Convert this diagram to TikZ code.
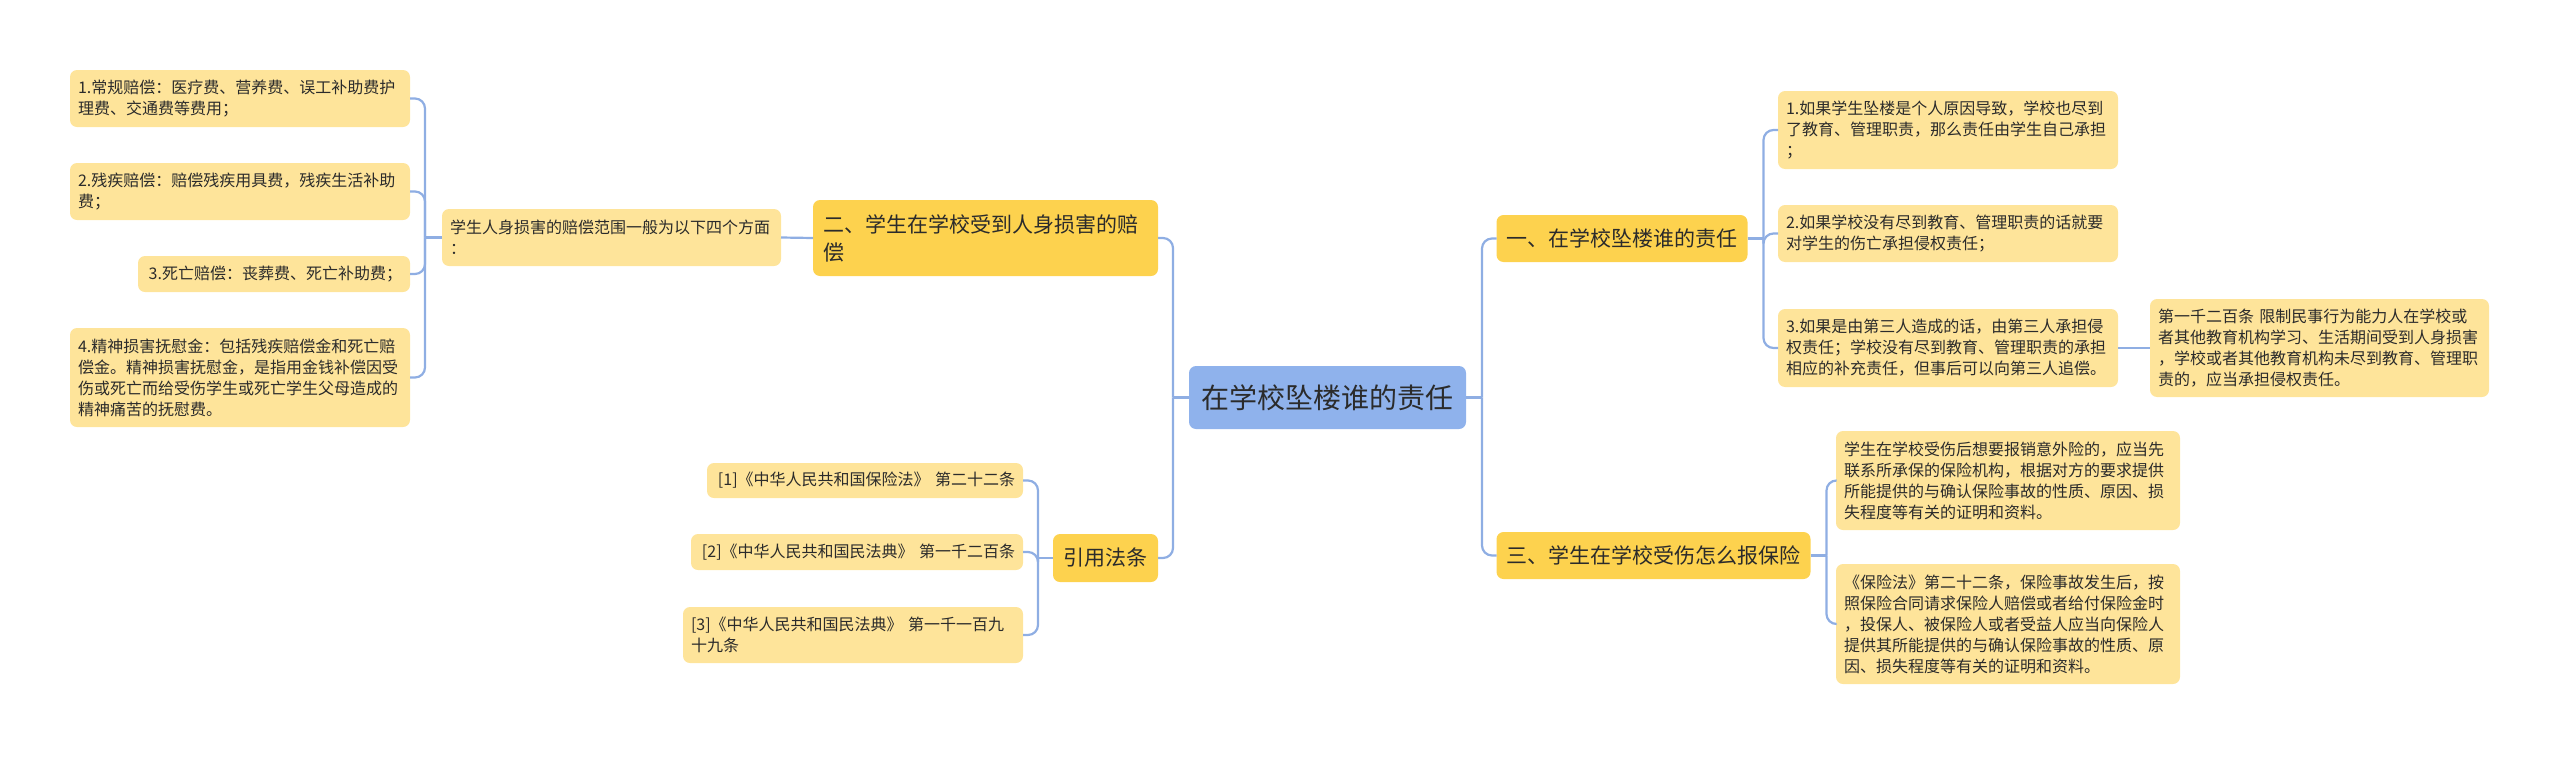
\documentclass[tikz,border=0pt]{standalone}
\usepackage{fontspec}
\setmainfont{Noto Sans CJK SC}
\definecolor{leafc}{HTML}{FEE49A}
\definecolor{branchc}{HTML}{FDD24E}
\definecolor{rootc}{HTML}{8FB2EC}
\definecolor{linec}{HTML}{8FAEE3}
\definecolor{txt}{HTML}{2B2B2B}
\tikzset{
  base/.style={rounded corners=7pt, text=txt, inner ysep=0pt, outer sep=0pt},
  leaf/.style={base, fill=leafc, font=\fontsize{16}{21}\selectfont, align=left, inner xsep=8pt},
  branch/.style={base, fill=branchc, font=\fontsize{21}{28}\selectfont, inner xsep=10pt},
  rootbox/.style={base, fill=rootc, font=\fontsize{28}{34}\selectfont, inner xsep=12pt, align=center},
  conn/.style={draw=linec, line width=2.2pt, rounded corners=10pt}
}
\begin{document}
\begin{tikzpicture}[x=1pt,y=-1pt]
\useasboundingbox (0,0) rectangle (2560,758);

% root
\node[rootbox, minimum width=277pt, minimum height=63pt] (root) at (1327.5,397.5) {在学校坠楼谁的责任};

% left branch 二
\node[branch, text width=325pt, align=left, minimum height=76pt] (b2) at (985.5,238) {二、学生在学校受到人身损害的赔\\偿};
\node[leaf, text width=323pt, minimum height=57pt] (m2) at (611.5,237.5) {学生人身损害的赔偿范围一般为以下四个方面\\：};
\node[leaf, text width=324pt, minimum height=57pt] (l1) at (240,98.5) {1.常规赔偿：医疗费、营养费、误工补助费护\\理费、交通费等费用；};
\node[leaf, text width=324pt, minimum height=57pt] (l2) at (240,191.5) {2.残疾赔偿：赔偿残疾用具费，残疾生活补助\\费；};
\node[leaf, text width=256pt, minimum height=36pt, align=right] (l3) at (274,274) {3.死亡赔偿：丧葬费、死亡补助费；};
\node[leaf, text width=324pt, minimum height=99pt] (l4) at (240,377.5) {4.精神损害抚慰金：包括残疾赔偿金和死亡赔\\偿金。精神损害抚慰金，是指用金钱补偿因受\\伤或死亡而给受伤学生或死亡学生父母造成的\\精神痛苦的抚慰费。};

% left branch 引用法条
\node[branch, minimum width=105pt, minimum height=48pt, align=center] (cite) at (1105.5,558) {引用法条};
\node[leaf, text width=300pt, minimum height=35pt, align=right] (c1) at (865,480.5) {[1]《中华人民共和国保险法》 第二十二条};
\node[leaf, text width=316pt, minimum height=36pt, align=right] (c2) at (857,552) {[2]《中华人民共和国民法典》 第一千二百条};
\node[leaf, text width=324pt, minimum height=56pt] (c3) at (853,635) {[3]《中华人民共和国民法典》 第一千一百九\\十九条};

% right branch 一
\node[branch, minimum width=250pt, minimum height=47pt, align=center] (b1) at (1622,238.5) {一、在学校坠楼谁的责任};
\node[leaf, text width=324pt, minimum height=78pt] (r1) at (1948,130) {1.如果学生坠楼是个人原因导致，学校也尽到\\了教育、管理职责，那么责任由学生自己承担\\；};
\node[leaf, text width=324pt, minimum height=57pt] (r2) at (1948,233.5) {2.如果学校没有尽到教育、管理职责的话就要\\对学生的伤亡承担侵权责任；};
\node[leaf, text width=324pt, minimum height=78pt] (r3) at (1948,348) {3.如果是由第三人造成的话，由第三人承担侵\\权责任；学校没有尽到教育、管理职责的承担\\相应的补充责任，但事后可以向第三人追偿。};
\node[leaf, text width=323pt, minimum height=98pt] (r3a) at (2319.5,348) {第一千二百条 限制民事行为能力人在学校或\\者其他教育机构学习、生活期间受到人身损害\\，学校或者其他教育机构未尽到教育、管理职\\责的，应当承担侵权责任。};

% right branch 三
\node[branch, minimum width=313pt, minimum height=47pt, align=center] (b3) at (1653.5,555.5) {三、学生在学校受伤怎么报保险};
\node[leaf, text width=328pt, minimum height=99pt] (r4) at (2008,480.5) {学生在学校受伤后想要报销意外险的，应当先\\联系所承保的保险机构，根据对方的要求提供\\所能提供的与确认保险事故的性质、原因、损\\失程度等有关的证明和资料。};
\node[leaf, text width=328pt, minimum height=120pt] (r5) at (2008,624) {《保险法》第二十二条，保险事故发生后，按\\照保险合同请求保险人赔偿或者给付保险金时\\，投保人、被保险人或者受益人应当向保险人\\提供其所能提供的与确认保险事故的性质、原\\因、损失程度等有关的证明和资料。};

% junctions
\coordinate (j0) at ([xshift=-16pt]root.west);
\coordinate (j2) at ([xshift=-17pt]m2.west);
\coordinate (j3) at ([xshift=-15pt]cite.west);
\coordinate (j4) at ([xshift=16pt]root.east);
\coordinate (j5) at ([xshift=16pt]b1.east);
\coordinate (j6) at ([xshift=16pt]b3.east);

% connectors
\draw[conn] (root.west) -- (j0);
\draw[conn] (j0) |- (b2.east);
\draw[conn] (j0) |- (cite.east);
\draw[conn] (b2.west) -- (m2.east);
\draw[conn] (m2.west) -- (j2);
\draw[conn] (j2) |- (l1.east);
\draw[conn] (j2) |- (l2.east);
\draw[conn] (j2) |- (l3.east);
\draw[conn] (j2) |- (l4.east);
\draw[conn] (cite.west) -- (j3);
\draw[conn] (j3) |- (c1.east);
\draw[conn] (j3) |- (c2.east);
\draw[conn] (j3) |- (c3.east);
\draw[conn] (root.east) -- (j4);
\draw[conn] (j4) |- (b1.west);
\draw[conn] (j4) |- (b3.west);
\draw[conn] (b1.east) -- (j5);
\draw[conn] (j5) |- (r1.west);
\draw[conn] (j5) |- (r2.west);
\draw[conn] (j5) |- (r3.west);
\draw[conn] (r3.east) -- (r3a.west);
\draw[conn] (b3.east) -- (j6);
\draw[conn] (j6) |- (r4.west);
\draw[conn] (j6) |- (r5.west);
\end{tikzpicture}
\end{document}
